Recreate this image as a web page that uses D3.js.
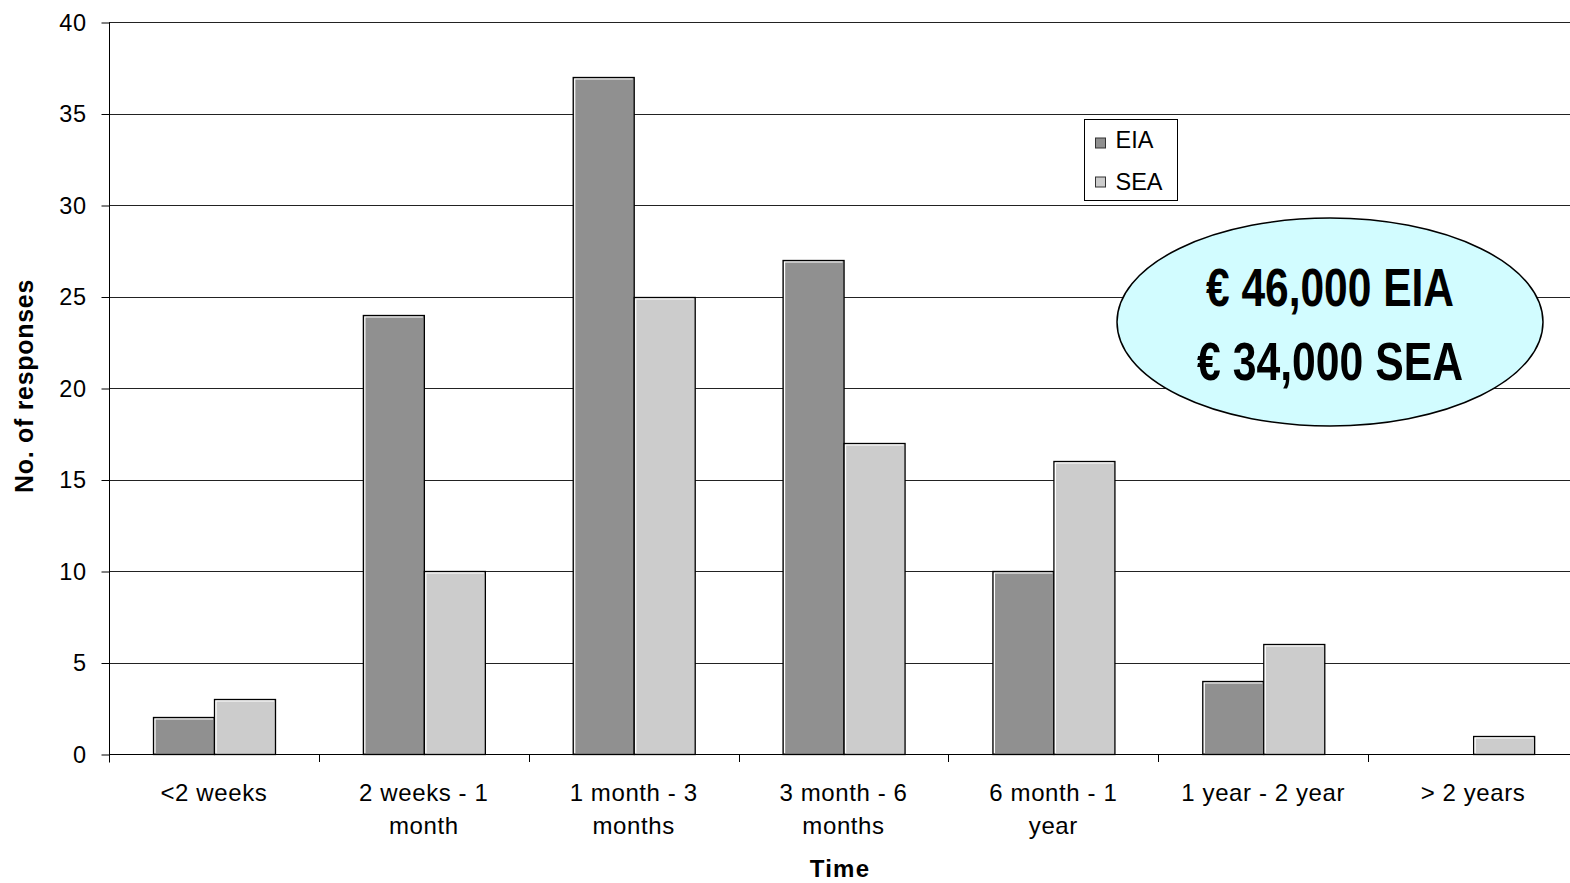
<!DOCTYPE html>
<html>
<head>
<meta charset="utf-8">
<script src="https://cdn.jsdelivr.net/npm/d3@7/dist/d3.min.js"></script>
<style>
  html, body { margin: 0; padding: 0; background: #fff; }
  svg { display: block; font-family: Arial, "Liberation Sans", sans-serif; }
</style>
</head>
<body>
<svg id="chart" width="1570" height="883"></svg>
<script>
// Time taken, responses per duration band
const categories = [
  ["<2 weeks"],
  ["2 weeks - 1", "month"],
  ["1 month - 3", "months"],
  ["3 month - 6", "months"],
  ["6 month - 1", "year"],
  ["1 year - 2 year"],
  ["> 2 years"]
];
const seriesNames = ["EIA", "SEA"];
const eiaValues = [2, 24, 37, 27, 10, 4, 0];
const seaValues = [3, 10, 25, 17, 16, 6, 1];
const yTicks = [0, 5, 10, 15, 20, 25, 30, 35, 40];
const costLines = ["€ 46,000 EIA", "€ 34,000 SEA"];

const colors = { EIA: "#909090", SEA: "#cccccc" };

const svg = d3.select("#chart");
const plotLeft = 109, plotRight = 1578, plotTop = 22, plotBottom = 754;

const catKeys = categories.map(c => c.join(" "));
const x0 = d3.scaleBand().domain(catKeys).range([plotLeft, plotRight]).padding(0);
const x1 = d3.scaleBand().domain(seriesNames).range([0, x0.bandwidth()])
  .paddingInner(0).paddingOuter(0.72);
const y = d3.scaleLinear().domain([0, 40]).range([plotBottom, plotTop]);

// horizontal gridlines
svg.append("g")
  .selectAll("line")
  .data(yTicks)
  .join("line")
  .attr("x1", plotLeft).attr("x2", 1570)
  .attr("y1", d => Math.round(y(d)) + 0.5).attr("y2", d => Math.round(y(d)) + 0.5)
  .attr("stroke", "#222").attr("stroke-width", 1);

// y axis
const yAxis = d3.axisLeft(y).tickValues(yTicks).tickSize(8).tickPadding(15);
const gy = svg.append("g").attr("transform", `translate(${plotLeft + 0.5},0.5)`).call(yAxis);
gy.select(".domain").attr("d", `M0,${plotTop}V${plotBottom + 8}`).attr("stroke", "#000");
gy.selectAll(".tick line").attr("stroke", "#000");
gy.selectAll(".tick text").attr("font-size", 23.5).attr("fill", "#000")
  .attr("letter-spacing", 0.5)
  .attr("font-family", "Arial, 'Liberation Sans', sans-serif");

// x axis
const xAxis = d3.axisBottom(x0).tickSize(0).tickFormat(() => "");
const gx = svg.append("g").attr("transform", `translate(0,${Math.round(plotBottom) + 0.5})`).call(xAxis);
gx.select(".domain").attr("d", `M${plotLeft},0H1570`).attr("stroke", "#000");
// category boundary ticks
svg.append("g")
  .selectAll("line")
  .data(catKeys.slice(1))
  .join("line")
  .attr("x1", d => Math.round(x0(d)) + 0.5).attr("x2", d => Math.round(x0(d)) + 0.5)
  .attr("y1", plotBottom).attr("y2", plotBottom + 8)
  .attr("stroke", "#000");

// category labels
const labels = svg.append("g");
categories.forEach((lines, i) => {
  const cx = x0(catKeys[i]) + x0.bandwidth() / 2;
  lines.forEach((t, j) => {
    labels.append("text")
      .attr("x", cx).attr("y", 801 + j * 33)
      .attr("text-anchor", "middle")
      .attr("font-size", 24)
      .attr("letter-spacing", 0.6)
      .attr("fill", "#000")
      .text(t);
  });
});

// bars
const rows = catKeys.map((k, i) => ({ key: k, EIA: eiaValues[i], SEA: seaValues[i] }));
const groups = svg.append("g").selectAll("g")
  .data(rows)
  .join("g")
  .attr("transform", d => `translate(${x0(d.key)},0)`);

const bars = groups.selectAll("g")
  .data(d => seriesNames.map(s => ({ s, v: d[s] })).filter(o => o.v > 0))
  .join("g");

bars.append("rect")
  .attr("x", d => Math.round(x1(d.s)) + 0.5)
  .attr("y", d => Math.round(y(d.v)) + 0.5)
  .attr("width", Math.round(x1.bandwidth()))
  .attr("height", d => Math.round(y(0)) - Math.round(y(d.v)))
  .attr("fill", d => colors[d.s])
  .attr("stroke", "#000")
  .attr("stroke-width", 1.3);

// light bevel on top and left edges
bars.append("path")
  .attr("d", d => {
    const bx = Math.round(x1(d.s)) + 2;
    const by = Math.round(y(d.v)) + 2;
    const by0 = Math.round(y(0)) - 1;
    const bx1 = Math.round(x1(d.s)) + Math.round(x1.bandwidth()) - 1;
    return `M${bx},${by0}V${by}H${bx1}`;
  })
  .attr("fill", "none")
  .attr("stroke", "#fff")
  .attr("stroke-width", 1.2);

// legend
const lg = svg.append("g").attr("transform", "translate(1084.5,119.5)");
lg.append("rect").attr("width", 93).attr("height", 81)
  .attr("fill", "#fff").attr("stroke", "#000");
seriesNames.forEach((s, i) => {
  const yy = 23.5 + i * 39;
  lg.append("rect").attr("x", 11).attr("y", yy - 5).attr("width", 10).attr("height", 10)
    .attr("fill", colors[s]).attr("stroke", "#333");
  lg.append("text").attr("x", 31).attr("y", 28 + i * 42)
    .attr("font-size", 23.5).attr("fill", "#000").text(s);
});

// cost callout
const callout = svg.append("g");
callout.append("ellipse")
  .attr("cx", 1330).attr("cy", 322).attr("rx", 213).attr("ry", 104)
  .attr("fill", "#d2fcff").attr("stroke", "#000").attr("stroke-width", 1.5);
costLines.forEach((t, i) => {
  callout.append("text")
    .attr("x", 1330).attr("y", 306 + i * 74)
    .attr("text-anchor", "middle")
    .attr("font-family", "'Liberation Sans Narrow', 'Arial Narrow', Arial, sans-serif")
    .attr("font-weight", "bold")
    .attr("font-size", 54)
    .attr("textLength", i === 0 ? 248 : 266)
    .attr("lengthAdjust", "spacingAndGlyphs")
    .attr("fill", "#000")
    .text(t);
});

// axis titles
svg.append("text")
  .attr("transform", "translate(33,386) rotate(-90)")
  .attr("text-anchor", "middle")
  .attr("font-size", 25).attr("font-weight", "bold").attr("letter-spacing", 0.7).attr("fill", "#000")
  .text("No. of responses");
svg.append("text")
  .attr("x", 840).attr("y", 877)
  .attr("text-anchor", "middle")
  .attr("font-size", 24).attr("font-weight", "bold").attr("letter-spacing", 1.2).attr("fill", "#000")
  .text("Time");
</script>
</body>
</html>
